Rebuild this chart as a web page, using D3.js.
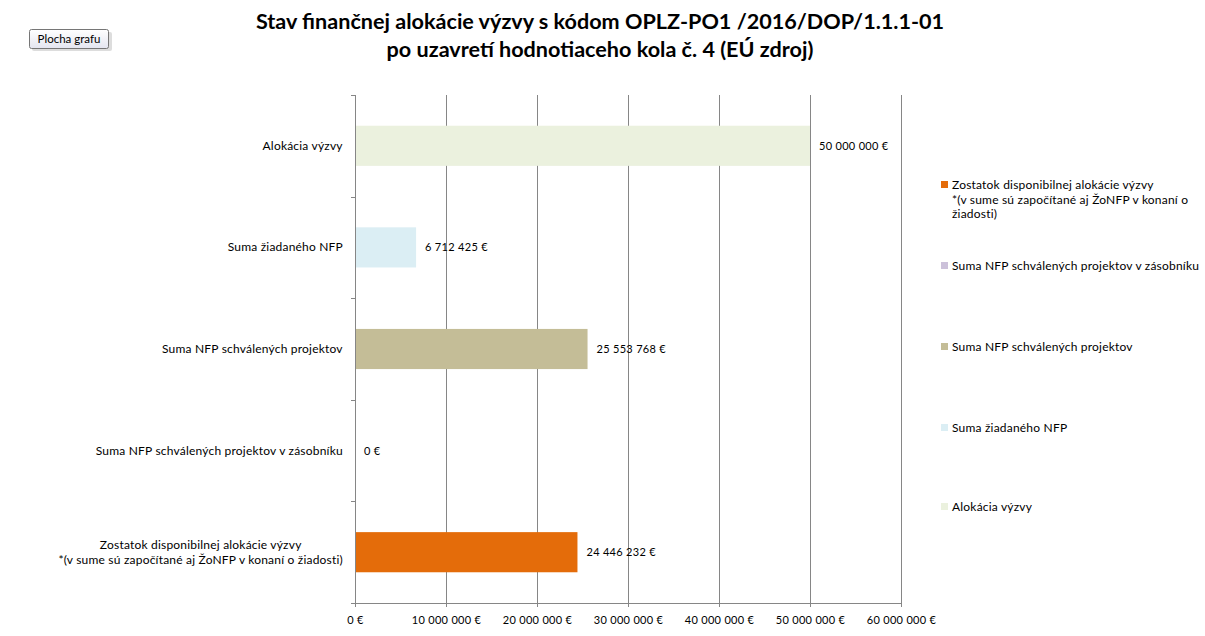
<!DOCTYPE html>
<html><head><meta charset="utf-8">
<script src="https://cdn.jsdelivr.net/npm/d3@7"></script>
<style>
body{margin:0;background:#fff;}
svg{display:block;}
text{font-family:Lato,"Open Sans",sans-serif;fill:#000;}
</style></head>
<body>
<svg id="chart" width="1205" height="636"></svg>
<script>
const titleLines = ["Stav finančnej alokácie výzvy s kódom OPLZ-PO1 /2016/DOP/1.1.1-01", "po uzavretí hodnotiaceho kola č. 4 (EÚ zdroj)"];
const categories = [
  ["Alokácia výzvy"],
  ["Suma žiadaného NFP"],
  ["Suma NFP schválených projektov"],
  ["Suma NFP schválených projektov v zásobníku"],
  ["Zostatok disponibilnej alokácie výzvy", "*(v sume sú započítané aj ŽoNFP v konaní o žiadosti)"]
];
const values = [50000000, 6712425, 25553768, 0, 24446232];
const colors = ["#EBF1DE", "#DBEEF4", "#C4BD97", "#CCC1DA", "#E46C0A"];
const xTicks = [0, 10000000, 20000000, 30000000, 40000000, 50000000, 60000000];
const legendItems = [
  {lines: ["Zostatok disponibilnej alokácie výzvy", "*(v sume sú započítané aj ŽoNFP v konaní o", "žiadosti)"], color: "#E46C0A"},
  {lines: ["Suma NFP schválených projektov v zásobníku"], color: "#CCC1DA"},
  {lines: ["Suma NFP schválených projektov"], color: "#C4BD97"},
  {lines: ["Suma žiadaného NFP"], color: "#DBEEF4"},
  {lines: ["Alokácia výzvy"], color: "#EBF1DE"}
];

const loc = d3.formatLocale({decimal: ",", thousands: " ", grouping: [3], currency: ["", " €"]});
const fmt = loc.format("$,.0f");

const svg = d3.select("#chart");
const plot = {left: 355, right: 901, top: 95, bottom: 603};
const x = d3.scaleLinear().domain([0, 60000000]).range([plot.left, plot.right]);
const y = d3.scaleBand().domain(d3.range(categories.length)).range([plot.top, plot.bottom]).padding(0);
const barFrac = 0.395;
const axisColor = "#868686";

// Title
svg.append("text").attr("x", 600).attr("y", 0).attr("text-anchor", "middle")
  .style("font-weight", "bold").style("font-size", "21.6px")
  .selectAll("tspan").data(titleLines).join("tspan")
  .attr("x", 600).attr("y", (d, i) => 29 + i * 28).text(d => d);

// Gridlines
svg.append("g").selectAll("line").data(xTicks.slice(1)).join("line")
  .attr("x1", d => x(d)).attr("x2", d => x(d))
  .attr("y1", plot.top).attr("y2", plot.bottom)
  .attr("stroke", axisColor).attr("stroke-width", 1).attr("shape-rendering", "crispEdges");

// X axis
const xAxis = d3.axisBottom(x).tickValues(xTicks).tickSize(4).tickPadding(9).tickFormat(fmt);
const gx = svg.append("g").attr("transform", `translate(0,${plot.bottom})`).call(xAxis);
gx.select(".domain").attr("stroke", axisColor).attr("d", `M${plot.left - 4},0.5H${plot.right}`);
gx.selectAll(".tick line").attr("stroke", axisColor);
gx.selectAll(".tick text").style("font-family", "Lato, sans-serif").style("font-size", "11px")
  .style("letter-spacing", "0.3px").attr("fill", "#000");
gx.attr("shape-rendering", "crispEdges");

// Y axis (line + ticks at category boundaries)
const boundaries = d3.range(categories.length + 1).map(i => plot.top + i * y.step());
svg.append("line").attr("x1", plot.left).attr("x2", plot.left).attr("y1", plot.top).attr("y2", plot.bottom)
  .attr("stroke", axisColor).attr("shape-rendering", "crispEdges");
svg.append("g").selectAll("line").data(boundaries).join("line")
  .attr("x1", plot.left - 4).attr("x2", plot.left).attr("y1", d => Math.round(d) + 0.5).attr("y2", d => Math.round(d) + 0.5)
  .attr("stroke", axisColor);

// Bars
svg.append("g").selectAll("rect").data(values).join("rect")
  .attr("x", x(0) + 1)
  .attr("y", (d, i) => y(i) + y.bandwidth() * (1 - barFrac) / 2)
  .attr("width", d => Math.max(0, x(d) - x(0) - 1))
  .attr("height", y.bandwidth() * barFrac)
  .attr("fill", (d, i) => colors[i]);

// Value labels
svg.append("g").selectAll("text").data(values).join("text")
  .attr("x", d => x(d) + 9)
  .attr("y", (d, i) => y(i) + y.bandwidth() / 2 + 4)
  .style("font-size", "11px").style("letter-spacing", "0.3px")
  .text(d => fmt(d));

// Category labels
const catG = svg.append("g").selectAll("text").data(categories).join("text")
  .attr("text-anchor", "middle")
  .style("font-size", "12px").style("letter-spacing", "0.2px");
catG.each(function(lines, i) {
  const t = d3.select(this);
  const cy = y(i) + y.bandwidth() / 2;
  const n = lines.length;
  lines.forEach((l, j) => {
    t.append("tspan").attr("x", 0).attr("y", cy + 4 + (j - (n - 1) / 2) * 15).text(l);
  });
});
catG.each(function() {
  const t = d3.select(this);
  const w = this.getBBox().width;
  const cx = 343 - w / 2;
  t.selectAll("tspan").attr("x", cx);
});

// Legend
const legendY = [189, 270, 351, 432, 511];
const lg = svg.append("g").selectAll("g").data(legendItems).join("g")
  .attr("transform", (d, i) => `translate(941,${legendY[i]})`);
lg.append("rect").attr("x", 0).attr("y", -8).attr("width", 7).attr("height", 7).attr("fill", d => d.color);
lg.append("text").style("font-size", "12px").style("letter-spacing", "0.2px")
  .selectAll("tspan").data(d => d.lines).join("tspan")
  .attr("x", 11).attr("y", (d, j) => j * 14.5).text(d => d);

// "Plocha grafu" tooltip
const defs = svg.append("defs");
const grad = defs.append("linearGradient").attr("id", "tipg").attr("x1", 0).attr("x2", 0).attr("y1", 0).attr("y2", 1);
grad.append("stop").attr("offset", "0%").attr("stop-color", "#ffffff");
grad.append("stop").attr("offset", "100%").attr("stop-color", "#e4e5f0");
svg.append("rect").attr("x", 32).attr("y", 32).attr("width", 80).attr("height", 19).attr("rx", 2)
  .attr("fill", "#bbb").attr("opacity", 0.5);
svg.append("rect").attr("x", 29.5).attr("y", 29.5).attr("width", 79).attr("height", 19).attr("rx", 2)
  .attr("fill", "url(#tipg)").attr("stroke", "#767676");
svg.append("text").attr("x", 69).attr("y", 43).attr("text-anchor", "middle")
  .style("font-size", "11.5px").attr("fill", "#4c4c4c").text("Plocha grafu");
</script>
</body></html>
